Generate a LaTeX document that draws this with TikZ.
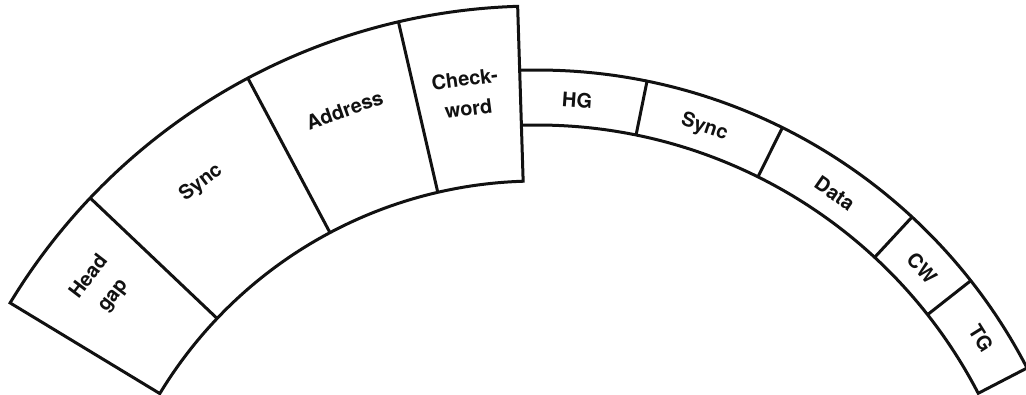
\documentclass[tikz,border=0pt]{standalone}
\usepackage{fontspec}
\setmainfont{TeX Gyre Heros}
\definecolor{SecInk}{HTML}{111111}
\tikzset{
  band/.style={draw=SecInk,line width=3pt,line join=miter},
  divider/.style={draw=SecInk,line width=3pt},
  fieldlabel/.style={text=SecInk,font=\fontsize{20}{30}\selectfont\bfseries,align=center,inner sep=0pt},
}
\begin{document}
\begin{tikzpicture}[x=1pt,y=1pt]
    \useasboundingbox (-537,228) rectangle (489,622);

    \draw[band] (148.8:616) arc[start angle=148.8,end angle=91.8,radius=616]
      -- (91.8:441) arc[start angle=91.8,end angle=148.8,radius=441] -- cycle;
    \draw[divider] (136.5:441) -- (136.5:616);
    \draw[divider] (118:441) -- (118:616);
    \draw[divider] (103:441) -- (103:616);

    \draw[band] (91.8:552) arc[start angle=91.8,end angle=27.4,radius=552]
      -- (27.4:497) arc[start angle=27.4,end angle=91.8,radius=497];
    \draw[divider] (78.5:497) -- (78.5:552);
    \draw[divider] (63.6:497) -- (63.6:552);
    \draw[divider] (47.2:497) -- (47.2:552);
    \draw[divider] (38.2:497) -- (38.2:552);

    \node[fieldlabel,rotate=52.5] (headgap) at (142.4:550) {Head\\gap};
    \node[fieldlabel,rotate=37.4] (hdrsync) at (127.4:553) {Sync};
    \node[fieldlabel,rotate=19.5] (address) at (110.6:547) {Address};
    \node[fieldlabel,rotate=7.5] (checkword) at (97.6:533) {Check-\\word};

    \node[fieldlabel,rotate=-4] (hg) at (85.6:523) {HG};
    \node[fieldlabel,rotate=-18.5] (datasync) at (71.3:522) {Sync};
    \node[fieldlabel,rotate=-34.8] (data) at (55.2:522) {Data};
    \node[fieldlabel,rotate=-48] (cw) at (42.6:523) {CW};
    \node[fieldlabel,rotate=-58] (tg) at (32.6:527) {TG};
  \end{tikzpicture}
\end{document}
